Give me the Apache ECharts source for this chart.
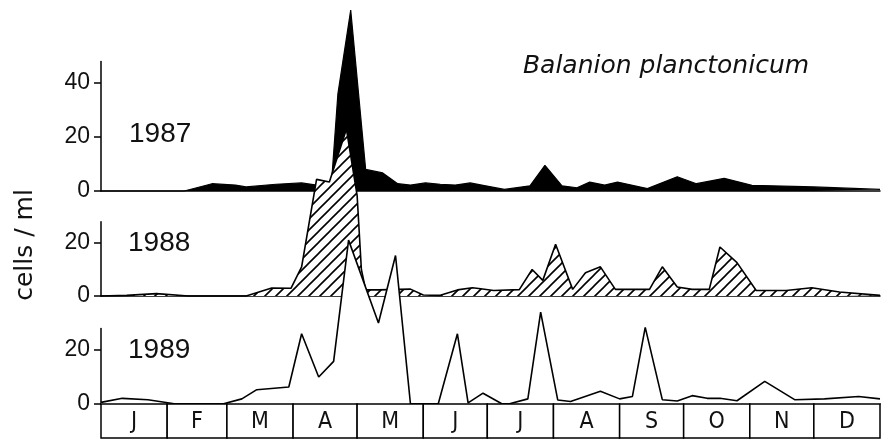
<!DOCTYPE html>
<html>
<head>
<meta charset="utf-8">
<script src="https://cdn.jsdelivr.net/npm/echarts@6/dist/echarts.min.js"></script>
<style>html,body{margin:0;padding:0;background:#fff;}#c{width:889px;height:440px;}</style>
</head>
<body>
<div id="c"></div>
<script>
// ---- data (day of year, cells/ml) ----
const days1987 = [0, 39, 52, 63, 68, 82, 94, 101, 108, 111, 117, 124, 132, 139, 145, 152, 159, 166, 173, 179, 189, 201, 208, 216, 223, 229, 236, 242, 256, 270, 279, 292, 305, 334, 365];
const vals1987 = [0, 0, 2.7, 2.2, 1.5, 2.5, 3, 2.2, 3, 36, 67, 8, 6.7, 2.7, 2.2, 3, 2.5, 2.2, 3, 2.1, 0.6, 1.9, 9.5, 1.9, 1.2, 3.3, 2.2, 3.3, 0.9, 5.3, 2.7, 4.7, 2.1, 1.5, 0.6];

const days1988 = [0, 12, 26, 41, 68, 80, 89, 94, 101, 107, 115, 120, 122, 124, 130, 140, 145, 151, 159, 167, 174, 177, 184, 196, 202, 207, 213, 221, 227, 234, 241, 257, 263, 270, 277, 285, 290, 298, 307, 321, 333, 346, 365];
const vals1988 = [0, 0.25, 0.9, 0, 0, 3, 2.9, 11, 44, 43, 63, 38, 10, 2.3, 2.3, 2.5, 2.6, 0.4, 0.25, 2.3, 3.1, 2.8, 2.1, 2.4, 10, 5.9, 19.5, 2.5, 8.8, 11, 2.5, 2.5, 11, 3.4, 2.5, 2.5, 18.5, 12.6, 2.1, 2.1, 3.1, 1.5, 0.25];

const days1989 = [0, 10, 22, 32, 35, 57, 66, 73, 88, 94, 102, 109, 116, 130, 138, 145, 158, 167, 172, 179, 188, 191, 200, 206, 214, 220, 234, 243, 249, 255, 263, 270, 277, 284, 290, 298, 311, 325, 339, 355, 365];
const vals1989 = [0.6, 2.1, 1.6, 0.4, 0, 0, 1.9, 5.3, 6.3, 26, 10, 15.8, 60.7, 30, 55, 0, 0, 26, 0.4, 4, 0, 0, 1.9, 34, 1.5, 0.9, 4.7, 1.9, 2.8, 28.4, 1.6, 1.1, 3.1, 2.1, 2.1, 1.2, 8.4, 1.6, 1.9, 2.8, 1.9];

const monthStarts = [0, 31, 59, 90, 120, 151, 181, 212, 243, 273, 304, 334, 365];
const monthLabels = ['J', 'F', 'M', 'A', 'M', 'J', 'J', 'A', 'S', 'O', 'N', 'D'];

const ticks1987 = [0, 20, 40];
const ticks1988 = [0, 20];
const ticks1989 = [0, 20];
const yMax = [48, 28, 28];
const yearLabels = ['1987', '1988', '1989'];
const titleText = 'Balanion planctonicum';
const yName = 'cells / ml';

// ---- helpers ----
const zip = (a, b) => a.map((d, i) => [d, b[i]]);
const monthData = monthLabels.map((m, i) => [monthStarts[i], monthStarts[i + 1], i]);

// hatch pattern
const P = 11;
const pc = document.createElement('canvas');
pc.width = P; pc.height = P;
const ctx = pc.getContext('2d');
ctx.fillStyle = '#fff'; ctx.fillRect(0, 0, P, P);
ctx.strokeStyle = '#000'; ctx.lineWidth = 1.6;
ctx.beginPath();
ctx.moveTo(-1, 1); ctx.lineTo(1, -1);
ctx.moveTo(0, P); ctx.lineTo(P, 0);
ctx.moveTo(P - 1, P + 1); ctx.lineTo(P + 1, P - 1);
ctx.stroke();

const GL = 101, GW = 779;
const grids = [
  { left: GL, width: GW, top: 61.4, height: 129.6 },
  { left: GL, width: GW, top: 221.8, height: 74.2 },
  { left: GL, width: GW, top: 328.4, height: 75.6 },
  { left: GL, width: GW, top: 404, height: 34 }
];

const axisLineStyle = { color: '#000', width: 1.5 };
const xAxes = [0, 1, 2, 3].map(i => ({
  type: 'value', gridIndex: i, min: 0, max: 365,
  axisLine: { show: i < 3, onZero: false, lineStyle: axisLineStyle },
  axisTick: { show: false }, axisLabel: { show: false }, splitLine: { show: false }
}));
const tickSets = [ticks1987, ticks1988, ticks1989];
const yAxes = [0, 1, 2].map(i => ({
  type: 'value', gridIndex: i, min: 0, max: yMax[i],
  axisLine: { show: true, lineStyle: axisLineStyle },
  axisTick: { show: true, length: 7, customValues: tickSets[i], lineStyle: axisLineStyle },
  axisLabel: { show: true, customValues: tickSets[i], margin: 11, color: '#111',
    fontFamily: 'Liberation Sans, Arial, sans-serif', fontSize: 23 },
  splitLine: { show: false }
}));
yAxes.push({ type: 'value', gridIndex: 3, min: 0, max: 1, show: false });

const lineBase = { type: 'line', showSymbol: false, symbol: 'none', clip: false, animation: false, smooth: false };

const option = {
  backgroundColor: '#fff',
  animation: false,
  grid: grids,
  xAxis: xAxes,
  yAxis: yAxes,
  series: [
    Object.assign({}, lineBase, {
      name: '1987', xAxisIndex: 0, yAxisIndex: 0, z: 2,
      data: zip(days1987, vals1987),
      lineStyle: { color: '#000', width: 1.2 },
      areaStyle: { color: '#000', opacity: 1 }
    }),
    Object.assign({}, lineBase, {
      name: '1988', xAxisIndex: 1, yAxisIndex: 1, z: 3,
      data: zip(days1988, vals1988),
      lineStyle: { color: '#000', width: 1.6 },
      areaStyle: { color: { image: pc, repeat: 'repeat' }, opacity: 1 }
    }),
    Object.assign({}, lineBase, {
      name: '1989', xAxisIndex: 2, yAxisIndex: 2, z: 4,
      data: zip(days1989, vals1989),
      lineStyle: { color: '#000', width: 1.6 },
      areaStyle: { color: '#fff', opacity: 1 }
    }),
    {
      type: 'custom', xAxisIndex: 3, yAxisIndex: 3, z: 5, animation: false,
      data: monthData,
      renderItem: function (params, api) {
        const p0 = api.coord([api.value(0), 1]);
        const p1 = api.coord([api.value(1), 0]);
        const label = monthLabels[api.value(2)];
        return {
          type: 'group',
          children: [
            { type: 'rect', shape: { x: p0[0], y: p0[1], width: p1[0] - p0[0], height: p1[1] - p0[1] },
              style: { fill: '#fff', stroke: '#000', lineWidth: 1.5 } },
            { type: 'text', x: (p0[0] + p1[0]) / 2, y: (p0[1] + p1[1]) / 2 + 1,
              style: { text: label, align: 'center', verticalAlign: 'middle', fill: '#111',
                font: '300 23px "DejaVu Sans Condensed", Roboto, sans-serif' } }
          ]
        };
      }
    }
  ],
  graphic: [
    { type: 'text', x: 666, y: 66, z: 10,
      style: { text: titleText, align: 'center', verticalAlign: 'middle', fill: '#111',
        font: 'italic 25px "DejaVu Sans", sans-serif' } },
    { type: 'text', x: 25, y: 245, rotation: Math.PI / 2, z: 10,
      style: { text: yName, align: 'center', verticalAlign: 'middle', fill: '#111',
        font: '25px "DejaVu Sans", sans-serif' } },
    { type: 'text', x: 129, y: 134, z: 10,
      style: { text: yearLabels[0], align: 'left', verticalAlign: 'middle', fill: '#111',
        font: '28px "Liberation Sans", Arial, sans-serif' } },
    { type: 'text', x: 128, y: 243, z: 10,
      style: { text: yearLabels[1], align: 'left', verticalAlign: 'middle', fill: '#111',
        font: '28px "Liberation Sans", Arial, sans-serif' } },
    { type: 'text', x: 128, y: 350, z: 10,
      style: { text: yearLabels[2], align: 'left', verticalAlign: 'middle', fill: '#111',
        font: '28px "Liberation Sans", Arial, sans-serif' } }
  ]
};

const chart = echarts.init(document.getElementById('c'), null, { renderer: 'canvas' });
chart.setOption(option);
</script>
</body>
</html>
